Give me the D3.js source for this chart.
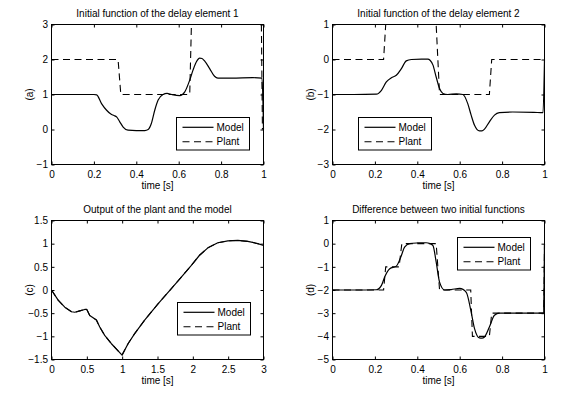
<!DOCTYPE html>
<html><head><meta charset="utf-8">
<script src="https://cdn.jsdelivr.net/npm/d3@7"></script>
<style>
html,body{margin:0;padding:0;background:#fff;}
svg{display:block;}
</style></head><body>
<svg id="chart" width="562" height="394"></svg>
<script>
// ---------- data ----------
const titles = ["Initial function of the delay element 1", "Initial function of the delay element 2",
                "Output of the plant and the model", "Difference between two initial functions"];
const yLabels = ["(a)", "(b)", "(c)", "(d)"];
const xLabel = "time [s]";
const seriesNames = ["Model", "Plant"];

const xTicksUnit = [0, 0.2, 0.4, 0.6, 0.8, 1];
const xTickLabelsUnit = ["0", "0.2", "0.4", "0.6", "0.8", "1"];
const xTicksC = [0, 0.5, 1, 1.5, 2, 2.5, 3];
const xTickLabelsC = ["0", "0.5", "1", "1.5", "2", "2.5", "3"];

const yTicksA = [-1, 0, 1, 2, 3];
const yTickLabelsA = ["\u22121", "0", "1", "2", "3"];
const yTicksB = [-3, -2, -1, 0, 1];
const yTickLabelsB = ["\u22123", "\u22122", "\u22121", "0", "1"];
const yTicksC = [-1.5, -1, -0.5, 0, 0.5, 1, 1.5];
const yTickLabelsC = ["\u22121.5", "\u22121", "\u22120.5", "0", "0.5", "1", "1.5"];
const yTicksD = [-5, -4, -3, -2, -1, 0, 1];
const yTickLabelsD = ["\u22125", "\u22124", "\u22123", "\u22122", "\u22121", "0", "1"];

const modelA = [[0,1],[0.1,1.0],[0.2,1.0],[0.213,0.99],[0.236,0.74],[0.26,0.55],[0.28,0.44],[0.295,0.4],
  [0.307,0.36],[0.322,0.22],[0.338,0.07],[0.361,-0.02],[0.40,-0.03],[0.44,-0.03],[0.456,0.0],[0.471,0.17],
  [0.487,0.55],[0.503,0.84],[0.526,1.0],[0.545,1.03],[0.567,1.0],[0.605,0.97],[0.628,1.07],[0.652,1.41],
  [0.667,1.69],[0.683,1.93],[0.699,2.04],[0.71,2.03],[0.722,1.96],[0.746,1.74],[0.769,1.52],[0.785,1.47],
  [0.85,1.47],[0.95,1.48],[0.993,1.47],[1.0,0.0]];
const plantA = [[0,2],[0.314,2],[0.327,1],[0.652,1],[0.66,3],[0.99,3],[0.995,0]];

const modelB = [[0,-1],[0.1,-1.0],[0.207,-0.99],[0.231,-0.88],[0.254,-0.64],[0.278,-0.52],[0.301,-0.45],
  [0.325,-0.26],[0.348,-0.04],[0.372,0.0],[0.42,0.01],[0.45,0.01],[0.46,-0.02],[0.474,-0.16],[0.489,-0.5],
  [0.505,-0.83],[0.521,-0.97],[0.544,-1.0],[0.584,-0.98],[0.615,-1.0],[0.638,-1.26],[0.654,-1.59],
  [0.67,-1.88],[0.693,-2.04],[0.705,-2.04],[0.717,-1.99],[0.74,-1.78],[0.764,-1.59],[0.787,-1.52],
  [0.85,-1.5],[0.95,-1.51],[0.993,-1.52],[1.0,0.0]];
const plantB = [[0,0],[0.241,0],[0.251,1],[0.489,1],[0.505,-1],[0.74,-1],[0.751,0],[1,0]];

const modelC = [[0,0],[0.094,-0.22],[0.188,-0.37],[0.283,-0.47],[0.33,-0.48],[0.4,-0.45],[0.47,-0.42],
  [0.5,-0.42],[0.541,-0.55],[0.636,-0.65],[0.683,-0.8],[0.753,-0.98],[0.848,-1.16],[0.989,-1.39],
  [1.0,-1.4],[1.083,-1.16],[1.177,-0.94],[1.318,-0.65],[1.507,-0.3],[1.696,0.03],[1.837,0.28],
  [1.979,0.53],[2.095,0.75],[2.213,0.91],[2.354,1.02],[2.496,1.06],[2.637,1.07],[2.778,1.05],
  [2.92,1.0],[3.0,0.96]];
const plantC = [[0,0],[0.094,-0.22],[0.188,-0.37],[0.283,-0.47],[0.33,-0.48],[0.4,-0.45],[0.47,-0.42],
  [0.5,-0.42],[0.541,-0.55],[0.636,-0.65],[0.683,-0.8],[0.753,-0.98],[0.848,-1.16],[0.989,-1.39],
  [1.0,-1.4],[1.083,-1.16],[1.177,-0.94],[1.318,-0.65],[1.507,-0.3],[1.696,0.03],[1.837,0.28],
  [1.979,0.53],[2.095,0.75],[2.213,0.91],[2.354,1.02],[2.496,1.06],[2.637,1.07],[2.778,1.05],
  [2.92,1.0],[3.0,0.96]];

const modelD = [[0,-2],[0.1,-2],[0.207,-1.99],[0.231,-1.8],[0.246,-1.44],[0.27,-1.08],[0.301,-0.97],
  [0.325,-0.51],[0.34,-0.15],[0.364,0.0],[0.40,0.03],[0.442,0.04],[0.46,0.0],[0.474,-0.08],[0.489,-0.79],
  [0.505,-1.66],[0.529,-2.0],[0.56,-1.98],[0.6,-1.93],[0.631,-2.1],[0.654,-2.95],[0.67,-3.67],
  [0.693,-4.07],[0.705,-4.08],[0.717,-4.03],[0.74,-3.6],[0.764,-3.09],[0.787,-3.0],[0.9,-3.0],
  [0.995,-3.0],[1.0,0.0]];
const plantD = [[0,-2],[0.241,-2],[0.251,-1],[0.314,-1],[0.327,0],[0.489,0],[0.505,-2],[0.652,-2],
  [0.66,-4],[0.74,-4],[0.751,-3],[0.997,-3],[1.0,0]];

// ---------- layout ----------
const FONT = '"Liberation Sans", Arial, Helvetica, sans-serif';
const panels = [
  {box:[51.5, 24.5, 263.5, 164.5], xd:[0,1], yd:[-1,3], xt:xTicksUnit, xl:xTickLabelsUnit, yt:yTicksA, yl:yTickLabelsA,
   title:titles[0], ylab:yLabels[0], model:modelA, plant:plantA, smooth:true, leg:[176.5,117.5]},
  {box:[332.5, 24.5, 544.5, 164.5], xd:[0,1], yd:[-3,1], xt:xTicksUnit, xl:xTickLabelsUnit, yt:yTicksB, yl:yTickLabelsB,
   title:titles[1], ylab:yLabels[1], model:modelB, plant:plantB, smooth:true, leg:[358.5,117.5]},
  {box:[51.5, 220.5, 263.5, 359.5], xd:[0,3], yd:[-1.5,1.5], xt:xTicksC, xl:xTickLabelsC, yt:yTicksC, yl:yTickLabelsC,
   title:titles[2], ylab:yLabels[2], model:modelC, plant:plantC, smooth:false, leg:[177.5,302.5]},
  {box:[332.5, 220.5, 544.5, 359.5], xd:[0,1], yd:[-5,1], xt:xTicksUnit, xl:xTickLabelsUnit, yt:yTicksD, yl:yTickLabelsD,
   title:titles[3], ylab:yLabels[3], model:modelD, plant:plantD, smooth:true, leg:[457.5,237.5]},
];

const svg = d3.select("#chart");
svg.append("rect").attr("width",562).attr("height",394).attr("fill","#fff");

panels.forEach((p, idx) => {
  const [l, t, r, b] = p.box;
  const x = d3.scaleLinear().domain(p.xd).range([l, r]);
  const y = d3.scaleLinear().domain(p.yd).range([b, t]);
  const g = svg.append("g");

  const clipId = "clip" + idx;
  svg.append("clipPath").attr("id", clipId).append("rect")
     .attr("x", l - 1).attr("y", t - 1).attr("width", r - l + 2).attr("height", b - t + 2);

  const styleAxis = sel => {
    sel.select(".domain").remove();
    sel.selectAll("line").attr("stroke", "#000").attr("stroke-width", 1);
    sel.selectAll("text").attr("font-family", FONT).attr("font-size", 10).attr("fill", "#000");
    sel.attr("font-family", FONT).attr("font-size", 10);
  };

  g.append("g").attr("transform", `translate(0,${b})`)
    .call(d3.axisBottom(x).tickValues(p.xt).tickFormat((d,i)=>p.xl[i]).tickSizeInner(-3).tickSizeOuter(0).tickPadding(6.4))
    .call(styleAxis);
  g.append("g").attr("transform", `translate(0,${t})`)
    .call(d3.axisTop(x).tickValues(p.xt).tickFormat("").tickSizeInner(-3).tickSizeOuter(0))
    .call(styleAxis);
  g.append("g").attr("transform", `translate(${l},0)`)
    .call(d3.axisLeft(y).tickValues(p.yt).tickFormat((d,i)=>p.yl[i]).tickSizeInner(-3).tickSizeOuter(0).tickPadding(3.5))
    .call(styleAxis);
  g.append("g").attr("transform", `translate(${r},0)`)
    .call(d3.axisRight(y).tickValues(p.yt).tickFormat("").tickSizeInner(-3).tickSizeOuter(0))
    .call(styleAxis);

  const lineGen = d3.line().x(d => x(d[0])).y(d => y(d[1]))
    .curve(p.smooth ? d3.curveMonotoneX : d3.curveLinear);
  const stepGen = d3.line().x(d => x(d[0])).y(d => y(d[1])).curve(d3.curveLinear);

  const plot = g.append("g").attr("clip-path", `url(#${clipId})`);
  plot.append("path").datum(p.plant).attr("d", stepGen)
    .attr("fill", "none").attr("stroke", "#000").attr("stroke-width", 1.1).attr("stroke-dasharray", "7,4.5");
  plot.append("path").datum(p.model).attr("d", lineGen)
    .attr("fill", "none").attr("stroke", "#000").attr("stroke-width", 1.2).attr("stroke-linejoin", "round");

  // frame
  g.append("rect").attr("x", l).attr("y", t).attr("width", r - l).attr("height", b - t)
    .attr("fill", "none").attr("stroke", "#000").attr("stroke-width", 1);

  // title
  g.append("text").attr("x", (l + r) / 2).attr("y", t - 7.5).attr("text-anchor", "middle")
    .attr("font-family", FONT).attr("font-size", 10).text(p.title);
  // x label
  g.append("text").attr("x", (l + r) / 2).attr("y", b + 24.5).attr("text-anchor", "middle")
    .attr("font-family", FONT).attr("font-size", 10).text(xLabel);
  // y label
  g.append("text").attr("transform", `translate(${l - 22},${(t + b) / 2}) rotate(-90)`)
    .attr("text-anchor", "middle").attr("dy", "0.35em")
    .attr("font-family", FONT).attr("font-size", 10).text(p.ylab);

  // legend
  const [lx, ly] = p.leg;
  const lg = g.append("g").attr("transform", `translate(${lx},${ly})`);
  lg.append("rect").attr("width", 73).attr("height", 32.5).attr("fill", "#fff")
    .attr("stroke", "#000").attr("stroke-width", 1);
  const rows = [9.8, 24.2];
  seriesNames.forEach((name, i) => {
    lg.append("line").attr("x1", 6).attr("x2", 37).attr("y1", rows[i]).attr("y2", rows[i])
      .attr("stroke", "#000").attr("stroke-width", i === 0 ? 1.2 : 1.1)
      .attr("stroke-dasharray", i === 0 ? null : "7,4.5");
    lg.append("text").attr("x", 40).attr("y", rows[i]).attr("dy", "0.35em")
      .attr("font-family", FONT).attr("font-size", 10).text(name);
  });
});
</script>
</body></html>
